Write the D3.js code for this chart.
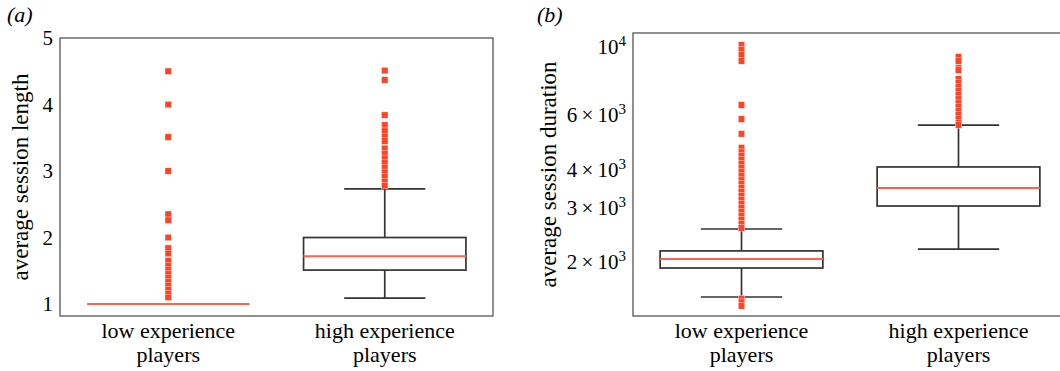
<!DOCTYPE html>
<html><head><meta charset="utf-8">
<script src="https://cdn.jsdelivr.net/npm/d3@7"></script>
<style>body{margin:0;background:#fff}</style>
</head><body>
<svg id="c" width="1060" height="371"></svg>
<script>
// ---- data ----
const categories = ["low experience players", "high experience players"];
const categoryLines = [["low experience", "players"], ["high experience", "players"]];

// (a) average session length
const lengthQ1 = [1, 1.51];
const lengthMedian = [1, 1.72];
const lengthQ3 = [1, 2.0];
const lengthWhiskerLo = [1, 1.09];
const lengthWhiskerHi = [1, 2.73];
const lengthOutliersLow = [4.5, 4.0, 3.51, 3.0, 2.35, 2.26, 2.0, 1.84, 1.76, 1.65, 1.58, 1.51, 1.45, 1.39, 1.33, 1.27, 1.21, 1.15, 1.1];
const lengthOutliersHigh = [4.51, 4.37, 3.84, 3.69, 3.6, 3.52, 3.45, 3.34, 3.26, 3.19, 3.12, 3.05, 2.98, 2.91, 2.84, 2.78];
const lengthTicks = [1, 2, 3, 4, 5];

// (b) average session duration (log scale)
const durationQ1 = [1912, 3041];
const durationMedian = [2046, 3481];
const durationQ3 = [2173, 4074];
const durationWhiskerLo = [1539, 2203];
const durationWhiskerHi = [2560, 5575];
const durationOutliersLow = [10150, 9780, 9420, 9010, 6480, 5830, 5220,
  4700, 4550, 4420, 4290, 4170, 4040, 3920, 3810, 3690, 3590, 3480, 3380, 3280, 3180, 3090, 3000, 2910, 2820, 2740, 2660, 2580,
  1520, 1480, 1440];
const durationOutliersHigh = [9280, 9000, 8550, 8410, 7870, 7640, 7410, 7190, 6980, 6770, 6570, 6380, 6190, 6010, 5830, 5660, 5580];
const durationTicks = [2000, 3000, 4000, 6000, 10000];

// ---- drawing ----
const FONT = "'Liberation Serif', 'Times New Roman', Times, serif";
const svg = d3.select("#c");
const outlierColor = "#ff4326";
const medianColor = "#ff6248";
const boxColor = "#333";
const frameColor = "#555";
const textColor = "#000";

function panel(opts) {
  const {x0, x1, y0, y1, y, label, ylabel, ylabelX, q1, med, q3, lo, hi, outliers, ticks, tickFmt, panelLabel} = opts;
  const g = svg.append("g");
  const x = d3.scaleBand().domain(categories).range([x0, x1]).paddingInner(0).paddingOuter(0);
  const bw = x.bandwidth();
  const boxW = bw * 0.75, capW = boxW / 2;

  // frame
  g.append("rect").attr("x", x0).attr("y", y0).attr("width", x1 - x0).attr("height", y1 - y0)
    .attr("fill", "none").attr("stroke", frameColor).attr("stroke-width", 1.3);

  // y axis
  const ax = g.append("g").attr("transform", `translate(${x0},0)`)
    .call(d3.axisLeft(y).tickValues(ticks).tickSize(0).tickPadding(7).tickFormat(""));
  ax.select(".domain").remove();
  ax.selectAll(".tick text").each(function(d) {
    const t = d3.select(this).style("font-family", FONT).style("font-size", "21px").attr("fill", textColor);
    tickFmt(t, d);
  });

  // x axis labels
  const xa = g.append("g").attr("transform", `translate(0,${y1})`)
    .call(d3.axisBottom(x).tickSize(0).tickFormat(""));
  xa.select(".domain").remove();
  xa.selectAll(".tick text").each(function(d, i) {
    const t = d3.select(this).style("font-family", FONT).style("font-size", "22px").attr("fill", textColor).attr("dy", null).attr("y", 0);
    categoryLines[i].forEach((ln, k) => {
      t.append("tspan").attr("x", 0).attr("y", 22 + k * 24).text(ln);
    });
  });

  // y label
  g.append("text").attr("transform", `translate(${ylabelX},${(y0 + y1) / 2}) rotate(-90)`)
    .attr("text-anchor", "middle").style("font-family", FONT).style("font-size", "23px").attr("fill", textColor).text(ylabel);
  // panel label
  g.append("text").attr("x", panelLabel[0]).attr("y", panelLabel[1]).style("font-family", FONT).style("font-size", "22px")
    .style("font-style", "italic").attr("fill", textColor).text(label);

  categories.forEach((c, i) => {
    const cx = x(c) + bw / 2;
    // whiskers
    g.append("line").attr("x1", cx).attr("x2", cx).attr("y1", y(q3[i])).attr("y2", y(hi[i])).attr("stroke", boxColor).attr("stroke-width", 1.7);
    g.append("line").attr("x1", cx).attr("x2", cx).attr("y1", y(q1[i])).attr("y2", y(lo[i])).attr("stroke", boxColor).attr("stroke-width", 1.7);
    // caps
    [hi[i], lo[i]].forEach(v => g.append("line").attr("x1", cx - capW / 2).attr("x2", cx + capW / 2)
      .attr("y1", y(v)).attr("y2", y(v)).attr("stroke", boxColor).attr("stroke-width", 1.7));
    // box
    g.append("rect").attr("x", cx - boxW / 2).attr("width", boxW)
      .attr("y", y(q3[i])).attr("height", Math.max(0, y(q1[i]) - y(q3[i])))
      .attr("fill", "none").attr("stroke", boxColor).attr("stroke-width", 1.7);
    // outliers
    const s = 6.5;
    g.selectAll(null).data(outliers[i]).enter().append("rect")
      .attr("x", cx - s / 2).attr("y", d => y(d) - s / 2).attr("width", s).attr("height", s)
      .attr("fill", outlierColor).attr("stroke", "#fff").attr("stroke-width", 0.4);
    // median
    g.append("line").attr("x1", cx - boxW / 2).attr("x2", cx + boxW / 2)
      .attr("y1", y(med[i])).attr("y2", y(med[i])).attr("stroke", medianColor).attr("stroke-width", 2);
  });
}

panel({
  x0: 60, x1: 493, y0: 38, y1: 316,
  y: d3.scaleLinear().domain([0.82, 5]).range([316, 38]),
  label: "(a)", panelLabel: [7, 22], ylabel: "average session length", ylabelX: 28,
  q1: lengthQ1, med: lengthMedian, q3: lengthQ3, lo: lengthWhiskerLo, hi: lengthWhiskerHi,
  outliers: [lengthOutliersLow, lengthOutliersHigh], ticks: lengthTicks,
  tickFmt: (t, d) => { t.text(d); }
});

panel({
  x0: 633, x1: 1067, y0: 33, y1: 316,
  y: d3.scaleLog().domain([1335, 11104]).range([316, 33]),
  label: "(b)", panelLabel: [537, 22], ylabel: "average session duration", ylabelX: 556,
  q1: durationQ1, med: durationMedian, q3: durationQ3, lo: durationWhiskerLo, hi: durationWhiskerHi,
  outliers: [durationOutliersLow, durationOutliersHigh], ticks: durationTicks,
  tickFmt: (t, d) => {
    const e = Math.floor(Math.log10(d) + 1e-9);
    const m = Math.round(d / Math.pow(10, e));
    t.text(null);
    t.append("tspan").text((m === 1 ? "" : m + "\u2009\u00d7\u2009") + "10");
    t.append("tspan").attr("dy", -8).style("font-size", "15px").text(e);
  }
});
</script>
</body></html>
